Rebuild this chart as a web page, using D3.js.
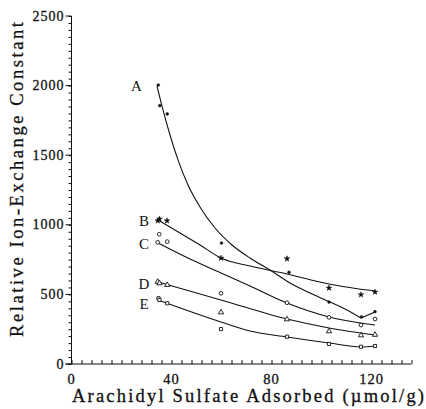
<!DOCTYPE html>
<html>
<head>
<meta charset="utf-8">
<script src="https://cdn.jsdelivr.net/npm/d3@7"></script>
<style>
  body { margin: 0; background: #fff; }
  svg { display: block; }
  .lbl { font-family: "Liberation Serif", "DejaVu Serif", serif; fill: #111; stroke: #111; stroke-width: 0.3px; }
  .tag { font-family: "Liberation Serif", "DejaVu Serif", serif; fill: #111; }
</style>
</head>
<body>
<div id="chart"></div>
<script>
// measured points (x = umol/g, y = relative constant)
const pointsA = [[34.7, 2004], [35.3, 1856], [38.3, 1796], [60, 869], [87, 659], [103, 445], [116, 338], [121.4, 376]];
const pointsB = [[34.5, 1029], [35.2, 1042], [38.2, 1029], [59.8, 761], [86.2, 756], [103, 546], [115.8, 498], [121.4, 517]];
const pointsC = [[35.1, 932], [34.5, 874], [38.3, 879], [59.8, 508], [86.2, 440], [103, 335], [115.8, 280], [121.4, 323]];
const pointsD = [[34.5, 591], [35.2, 580], [38.3, 568], [59.8, 371], [86.2, 321], [103, 235], [115.8, 206], [121.4, 210]];
const pointsE = [[34.8, 472], [35.2, 460], [38.3, 436], [59.8, 251], [86.2, 196], [103, 144], [115.8, 124], [121.4, 129]];

// fitted curves
const fitA = [[34.2, 1997], [36.6, 1825], [39.4, 1645], [42.6, 1466], [46.6, 1286], [51.4, 1128], [57.4, 977],
  [64.2, 855], [71.4, 761], [79.4, 675], [87.4, 582], [95.4, 510], [103.4, 445], [109.4, 395], [115.8, 330]];
const tailA = [[115.8, 330], [121.4, 374]];
const fitB = [[34.6, 1034], [43.4, 941], [51.4, 855], [59.8, 761], [71.4, 704], [86.2, 647], [103, 575], [121.4, 524]];
const fitC = [[34.6, 869], [47.4, 754], [59.8, 654], [71.4, 560], [86.2, 438], [103, 338], [121.4, 280]];
const fitD = [[34.6, 589], [59.8, 460], [86.2, 323], [103, 259], [121.4, 208]];
const fitE = [[34.6, 460], [59.8, 302], [71.4, 237], [86.2, 194], [103, 151], [115.8, 122], [121.4, 129]];

const seriesNames = ["A", "B", "C", "D", "E"];
const xTickLabels = [0, 40, 80, 120];
const yTickLabels = [0, 500, 1000, 1500, 2000, 2500];

const width = 426, height = 409;
const x = d3.scaleLinear().domain([0, 136]).range([71.5, 411.5]);
const y = d3.scaleLinear().domain([0, 2500]).range([364, 16]);

const svg = d3.select("#chart").append("svg")
  .attr("width", width)
  .attr("height", height);

// axes
const xAxis = svg.append("g").attr("transform", `translate(0,${y(0)})`);
xAxis.call(d3.axisTop(x).tickValues(d3.range(0, 137, 4)).tickSize(4).tickFormat(""))
  .call(g => g.select(".domain").remove());
xAxis.append("line").attr("x1", x(0) - 6).attr("x2", x(136)).attr("stroke", "#111");
xAxis.selectAll(".tick line").attr("stroke", "#111");

const yAxis = svg.append("g").attr("transform", `translate(${x(0)},0)`);
yAxis.call(d3.axisLeft(y).tickValues(d3.range(0, 2501, 50)).tickSize(3).tickFormat(""))
  .call(g => g.select(".domain").remove());
yAxis.append("line").attr("y1", y(0)).attr("y2", y(2500)).attr("stroke", "#111");
yAxis.selectAll(".tick line").attr("stroke", "#111");
yAxis.selectAll(".major").data(yTickLabels).enter().append("line")
  .attr("x1", -6).attr("x2", 0).attr("y1", d => y(d)).attr("y2", d => y(d)).attr("stroke", "#111");

svg.append("g").selectAll("text").data(yTickLabels).enter().append("text")
  .attr("class", "lbl")
  .attr("x", x(0) - 7)
  .attr("y", d => y(d) + 4.5)
  .attr("text-anchor", "end")
  .style("font-size", "14px")
  .style("letter-spacing", "1px")
  .text(d => d);

svg.append("g").selectAll("text").data(xTickLabels).enter().append("text")
  .attr("class", "lbl")
  .attr("x", d => x(d))
  .attr("y", y(0) + 20)
  .attr("text-anchor", "middle")
  .style("font-size", "14.5px")
  .style("letter-spacing", "1px")
  .text(d => d);

svg.append("text").attr("class", "lbl")
  .attr("x", 72).attr("y", 402)
  .attr("textLength", 352)
  .attr("lengthAdjust", "spacing")
  .style("font-size", "18.5px")
  .text("Arachidyl Sulfate Adsorbed (\u00b5mol/g)");

svg.append("text").attr("class", "lbl")
  .attr("transform", "translate(23,337) rotate(-90)")
  .attr("textLength", 315)
  .attr("lengthAdjust", "spacing")
  .style("font-size", "18.5px")
  .text("Relative Ion-Exchange Constant");

// fitted lines
const line = d3.line().x(d => x(d[0])).y(d => y(d[1])).curve(d3.curveMonotoneX);
const straight = d3.line().x(d => x(d[0])).y(d => y(d[1]));
[fitA, fitB, fitC, fitD, fitE].forEach(f => {
  svg.append("path").attr("d", line(f)).attr("fill", "none").attr("stroke", "#111").attr("stroke-width", 1.1);
});
svg.append("path").attr("d", straight(tailA)).attr("fill", "none").attr("stroke", "#111").attr("stroke-width", 1.1);

// markers
const allPoints = [pointsA, pointsB, pointsC, pointsD, pointsE];
const shapes = [d3.symbolCircle, d3.symbolStar, d3.symbolCircle, d3.symbolTriangle, d3.symbolSquare];
const sizes = [6, 10, 11, 12, 10];
allPoints.forEach((pts, i) => {
  svg.append("g").selectAll("path").data(pts).enter().append("path")
    .attr("transform", d => `translate(${x(d[0])},${y(d[1])})`)
    .attr("d", d3.symbol().type(shapes[i]).size(sizes[i]))
    .attr("fill", i < 2 ? "#111" : "#fff")
    .attr("stroke", "#111")
    .attr("stroke-width", i < 2 ? 0.5 : 0.9);
});

// series letters
const tagPos = [[26, 2000], [29, 1030], [29, 865], [29, 575], [29, 430]];
svg.append("g").selectAll("text").data(seriesNames).enter().append("text")
  .attr("class", "tag")
  .attr("x", (d, i) => x(tagPos[i][0]))
  .attr("y", (d, i) => y(tagPos[i][1]) + 5)
  .attr("text-anchor", "middle")
  .style("font-size", "15px")
  .text(d => d);
</script>
</body>
</html>
